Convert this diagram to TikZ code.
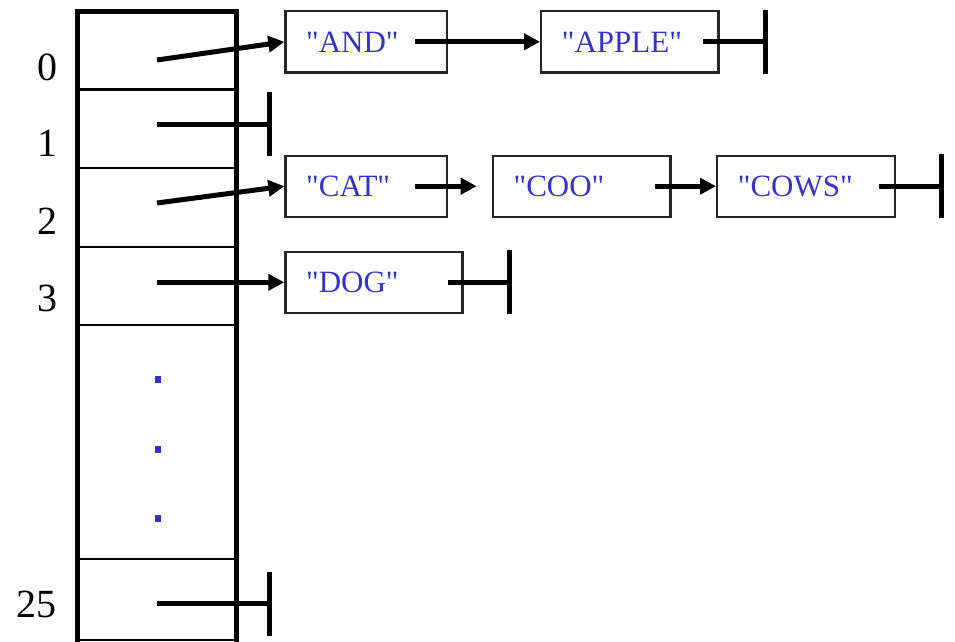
\documentclass[tikz,border=0pt]{standalone}
\usepackage{fontspec}
\setmainfont{Liberation Serif}
\newfontfamily\strfont{Liberation Serif}
\usetikzlibrary{arrows.meta,calc}
\definecolor{txtblue}{RGB}{51,51,204}
\begin{document}
\begin{tikzpicture}[x=1pt,y=-1pt,
  tableedge/.style={line width=5pt,line join=miter},
  cellrule/.style={line width=2.2pt},
  ptr/.style={line width=5pt,-{Triangle[length=16pt,width=16pt]}},
  nul/.style={line width=5pt},
  strbox/.style={draw=black!85,line width=2.4pt,anchor=west,minimum height=61pt,
    inner xsep=20.7pt,inner ysep=0pt,align=left,text=txtblue,
    font=\strfont\fontsize{31}{31}\selectfont},
  idx/.style={anchor=base,font=\fontsize{40}{40}\selectfont},
  dotmark/.style={fill=txtblue,inner sep=0pt,minimum width=6pt,minimum height=7pt}
]
\useasboundingbox (0,0) rectangle (955,642);

% table
\draw[tableedge] (77,646) -- (77,12) -- (236.5,12) -- (236.5,646);
\foreach \yy in {89.5,167.7,246.7,325,558.7,640}
  \draw[cellrule] (78,\yy) -- (235.5,\yy);

% indices
\node[idx] (i0) at (47.7,80) {0};
\node[idx] (i1) at (47.7,156) {1};
\node[idx] (i2) at (47.7,234) {2};
\node[idx] (i3) at (47.7,311) {3};
\node[idx] (i25) at (36.7,617) {25};

% ellipsis dots
\node[dotmark] (d1) at (157.5,379.3) {};
\node[dotmark] (d2) at (157.5,449.3) {};
\node[dotmark] (d3) at (157.5,518.7) {};

% string boxes
\node[strbox,text width=120pt] (and) at (284.3,41.8) {"AND"};
\node[strbox,text width=135.9pt] (apple) at (540,41.8) {"APPLE"};
\node[strbox,text width=120pt] (cat) at (284.3,186.2) {"CAT"};
\node[strbox,text width=136.2pt] (coo) at (491.7,186.2) {"COO"};
\node[strbox,text width=136.6pt] (cows) at (716,186.2) {"COWS"};
\node[strbox,text width=135.6pt] (dog) at (284.3,282.3) {"DOG"};

% pointer origins and null ends
\coordinate (p0) at (157,60);
\coordinate (p1) at (157,124);
\coordinate (p2) at (157,203);
\coordinate (p3) at (157,282.3);
\coordinate (p25) at (157,603.7);
\coordinate (n1) at (269,124);
\coordinate (n25) at (269,603.7);
\coordinate (napple) at (765,41.8);
\coordinate (ncows) at (941,186.2);
\coordinate (ndog) at (509,282.3);

% pointers from table
\draw[ptr] (p0) -- (and.west);
\draw[ptr] (p2) -- (cat.west);
\draw[ptr] (p3) -- (dog.west);
\draw[nul] (p1) -- (n1);
\draw[nul] ([yshift=32pt]n1) -- ([yshift=-32pt]n1);
\draw[nul] (p25) -- (n25);
\draw[nul] ([yshift=32pt]n25) -- ([yshift=-32pt]n25);

% list links
\draw[ptr] ([xshift=-33pt]and.east) -- (apple.west);
\draw[ptr,shorten >=15pt] ([xshift=-33pt]cat.east) -- (coo.west);
\draw[ptr] ([xshift=-16.3pt]coo.east) -- (cows.west);

% null terminators
\draw[nul] ([xshift=-16.3pt]apple.east) -- (napple);
\draw[nul] ([yshift=32pt]napple) -- ([yshift=-32pt]napple);
\draw[nul] ([xshift=-17pt]cows.east) -- (ncows);
\draw[nul] ([yshift=32pt]ncows) -- ([yshift=-32pt]ncows);
\draw[nul] ([xshift=-16pt]dog.east) -- (ndog);
\draw[nul] ([yshift=32pt]ndog) -- ([yshift=-32pt]ndog);
\end{tikzpicture}
\end{document}
